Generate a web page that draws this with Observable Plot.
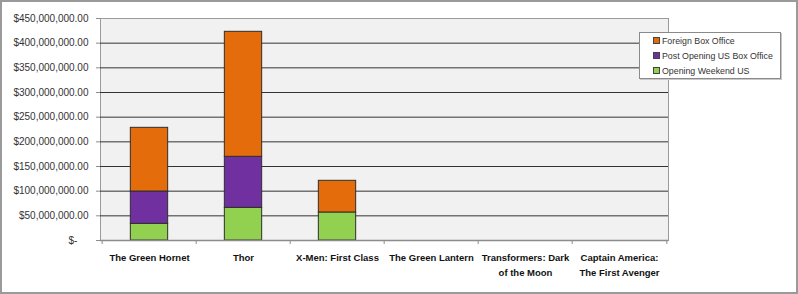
<!DOCTYPE html>
<html>
<head>
<meta charset="utf-8">
<script src="https://cdn.jsdelivr.net/npm/d3@7"></script>
<script src="https://cdn.jsdelivr.net/npm/@observablehq/plot@0.6"></script>
<style>
  html, body { margin: 0; padding: 0; background: #fff; }
  #wrap { position: relative; width: 798px; height: 294px; overflow: hidden; background: #fff; }
  #frame { position: absolute; left: 0; top: 0; width: 798px; height: 294px; box-sizing: border-box; border: 2px solid #9a9a9a; pointer-events: none; }
  #legend { position: absolute; left: 639px; top: 32px; width: 142px; height: 47px; box-sizing: border-box;
    border: 1px solid #8a8a8a; background: #fff; font-family: "Liberation Sans", Arial, sans-serif; font-size: 8.8px; color: #333;
    box-shadow: 1px 1px 0 #c8c8c8; }
  .item { position: absolute; left: 13px; height: 10px; line-height: 10px; white-space: nowrap; }
  .sw { display: inline-block; width: 5px; height: 5px; border: 1px solid #444; margin-right: 2px; vertical-align: 0px; }
</style>
</head>
<body>
<div id="wrap"><div id="chart"></div><div id="legend"></div><div id="frame"></div></div>
<script>
const categories = ["The Green Hornet", "Thor", "X-Men: First Class", "The Green Lantern", "Transformers: Dark of the Moon", "Captain America: The First Avenger"];
const categoryLabels = ["The Green Hornet", "Thor", "X-Men: First Class", "The Green Lantern", "Transformers: Dark\nof the Moon", "Captain America:\nThe First Avenger"];
const seriesNames = ["Opening Weekend US", "Post Opening US Box Office", "Foreign Box Office"];
const seriesColors = ["#92d050", "#7030a0", "#e46c0a"];
const openingWeekendUS = [33.8e6, 66.2e6, 56.8e6, 0, 0, 0];
const postOpeningUS = [65.5e6, 103.4e6, 0, 0, 0, 0];
const foreignBoxOffice = [129.1e6, 253.4e6, 64.2e6, 0, 0, 0];
const yTicks = [0, 50e6, 100e6, 150e6, 200e6, 250e6, 300e6, 350e6, 400e6, 450e6];
const gridTicks = [50e6, 100e6, 150e6, 200e6, 250e6, 300e6, 350e6, 400e6];

const seriesValues = [openingWeekendUS, postOpeningUS, foreignBoxOffice];
const rows = [];
categories.forEach((c, i) => {
  seriesNames.forEach((s, j) => {
    if (seriesValues[j][i] > 0) rows.push({movie: c, series: s, value: seriesValues[j][i]});
  });
});

const W = 798, H = 294, mL = 100, mR = 130, mT = 18, mB = 54;
const bw = (W - mL - mR) / categories.length;
const barW = 38;
const inset = (bw - barW) / 2;
const labelOf = Object.fromEntries(categories.map((c, i) => [c, categoryLabels[i]]));
const moneyFmt = d3.format(",.2f");

const chart = Plot.plot({
  width: W, height: H,
  marginLeft: mL, marginRight: mR, marginTop: mT, marginBottom: mB,
  style: {fontFamily: "'Liberation Sans', Arial, sans-serif", background: "transparent"},
  x: {domain: categories, padding: 0, axis: null, label: null},
  y: {domain: [0, 450e6], axis: null, label: null},
  color: {domain: seriesNames, range: seriesColors},
  marks: [
    Plot.frame({fill: "#f1f1f1", stroke: "#9a9a9a"}),
    Plot.ruleY(gridTicks, {stroke: "#333", strokeWidth: 1}),
    Plot.barY(rows, Plot.stackY({
      x: "movie", y: "value", fill: "series", z: "series",
      order: seriesNames,
      insetLeft: inset, insetRight: inset,
      stroke: "#2e2e2e", strokeWidth: 1
    })),
    Plot.ruleY([0], {stroke: "#8c8c8c", strokeWidth: 1.5}),
    Plot.axisY(yTicks, {
      tickSize: 4, tickPadding: 8, stroke: "#8c8c8c", label: null,
      fontSize: 10, fill: "#333",
      tickFormat: d => d === 0 ? "$-\u00a0\u00a0\u00a0\u00a0" : "$" + moneyFmt(d)
    }),
    Plot.axisX(categories, {tickSize: 4, dx: -bw / 2, stroke: "#8c8c8c", label: null, tickFormat: () => ""}),
    Plot.axisX([categories[categories.length - 1]], {tickSize: 4, dx: bw / 2, stroke: "#8c8c8c", label: null, tickFormat: () => ""}),
    Plot.axisX(categories, {
      tickSize: 0, tickPadding: 10, lineHeight: 1.6, label: null,
      fontSize: 9.5, fontWeight: "bold", fill: "#111",
      fontFamily: "'Liberation Sans', Arial, sans-serif",
      tickFormat: d => labelOf[d]
    })
  ]
});
document.getElementById("chart").appendChild(chart);

// Legend (top to bottom: reverse of stacking order)
const legend = document.getElementById("legend");
const legendTops = [3, 17.5, 33];
seriesNames.slice().reverse().forEach((s, i) => {
  const it = document.createElement("div");
  it.className = "item";
  it.style.top = legendTops[i] + "px";
  const sw = document.createElement("span");
  sw.className = "sw";
  sw.style.background = seriesColors[seriesNames.indexOf(s)];
  it.appendChild(sw);
  it.appendChild(document.createTextNode(s));
  legend.appendChild(it);
});
</script>
</body>
</html>
